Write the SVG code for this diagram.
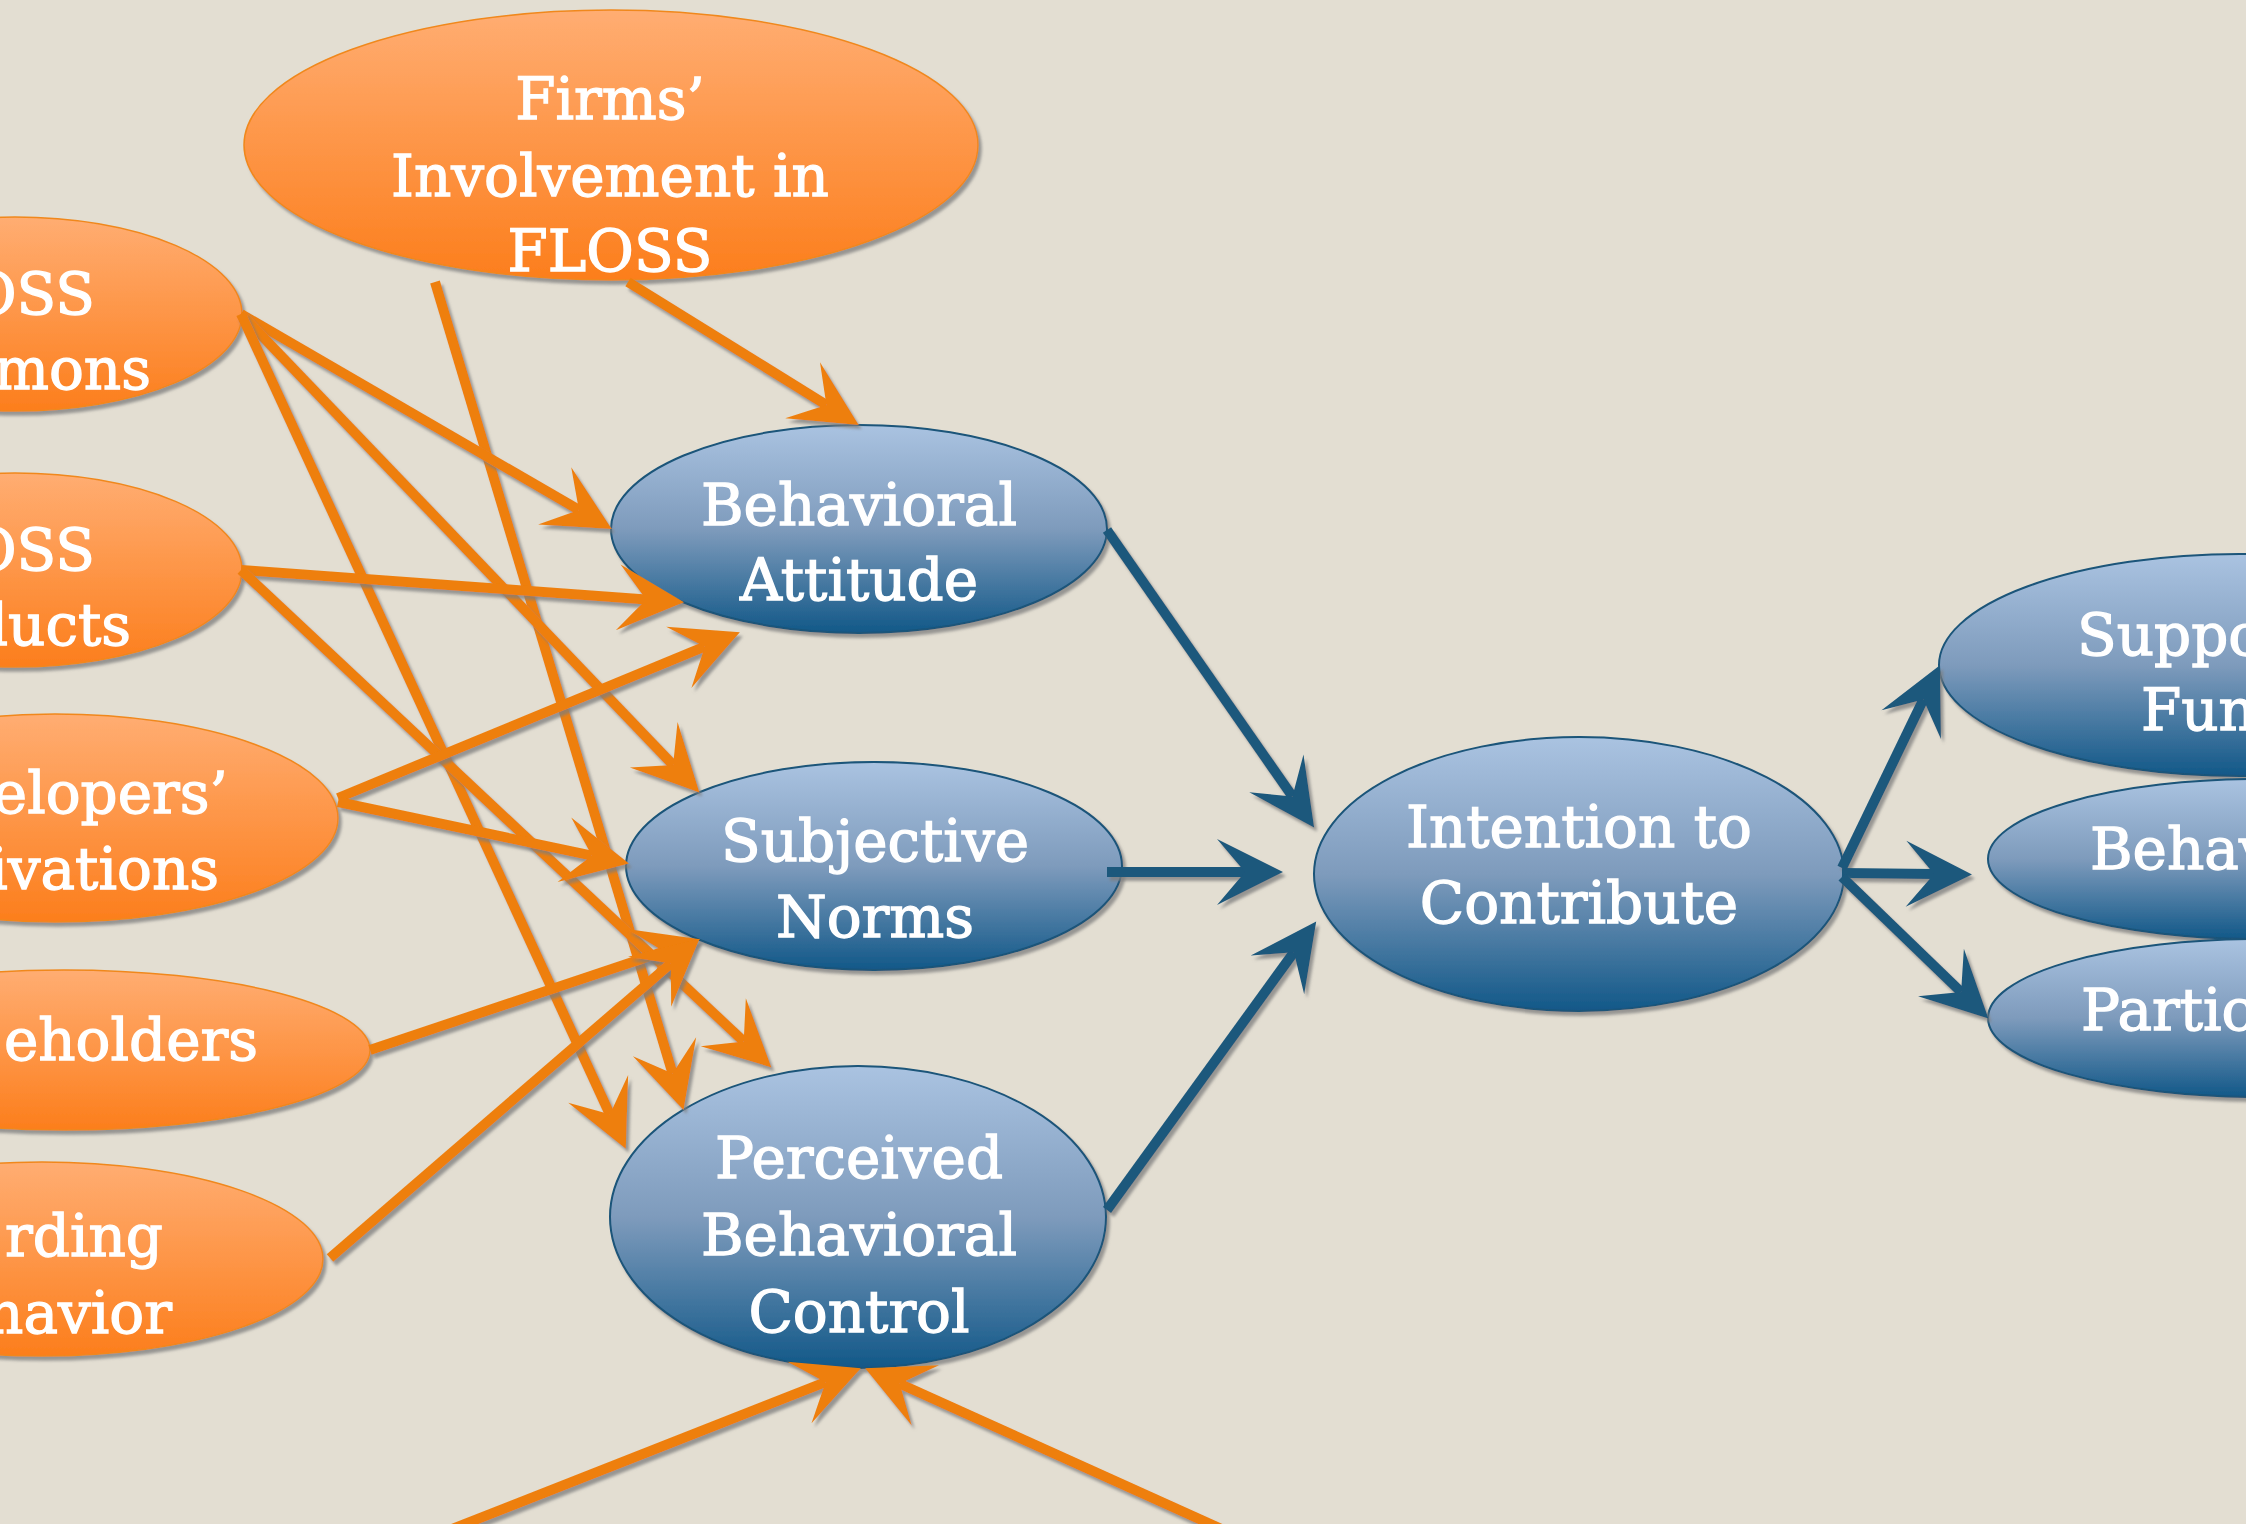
<svg xmlns="http://www.w3.org/2000/svg" width="2246" height="1524" viewBox="0 0 2246 1524">
<defs>
<linearGradient id="gO" x1="0" y1="0" x2="0" y2="1">
<stop offset="0" stop-color="#FFAD72"/>
<stop offset="1" stop-color="#FC7E1C"/>
</linearGradient>
<linearGradient id="gB" x1="0" y1="0" x2="0" y2="1">
<stop offset="0" stop-color="#AAC3E1"/>
<stop offset="0.5" stop-color="#7E9BBC"/>
<stop offset="1" stop-color="#125888"/>
</linearGradient>
<filter id="sh" filterUnits="userSpaceOnUse" x="0" y="0" width="2246" height="1524">
<feDropShadow dx="3" dy="4" stdDeviation="1.5" flood-color="#7d7d7d" flood-opacity="0.75"/>
</filter>
<marker id="ao" markerUnits="userSpaceOnUse" orient="auto" overflow="visible" markerWidth="100" markerHeight="100" refX="0" refY="0">
<path d="M38,0 L-28,-33 L0,0 L-28,33 Z" fill="#EE7F0E"/>
</marker>
<marker id="ab" markerUnits="userSpaceOnUse" orient="auto" overflow="visible" markerWidth="100" markerHeight="100" refX="0" refY="0">
<path d="M38,0 L-28,-33 L0,0 L-28,33 Z" fill="#1D587C"/>
</marker>
<style>
.o { fill: url(#gO); stroke: #F0881C; stroke-width: 1.5; filter: url(#sh); }
.b { fill: url(#gB); stroke: #1A5479; stroke-width: 2; filter: url(#sh); }
.t, .te, .ts { font-family: "DejaVu Serif", "Liberation Serif", serif; font-size: 58px; fill: #FFFFFF; stroke: #FFFFFF; stroke-width: 1.3; }
.t { text-anchor: middle; }
.te { text-anchor: end; }
.ts { text-anchor: start; }
.co { stroke: #EE7F0E; stroke-width: 10; fill: none; marker-end: url(#ao); filter: url(#sh); }
.cb { stroke: #1D587C; stroke-width: 10; fill: none; marker-end: url(#ab); filter: url(#sh); }
</style>
</defs>
<rect x="0" y="0" width="2246" height="1524" fill="#E3DED2"/>

<g id="firms-involvement">
<ellipse class="o" cx="611" cy="145" rx="367" ry="135"/>
<text class="t" x="610" y="119">Firms’</text>
<text class="t" x="610" y="196">Involvement in</text>
<text class="t" x="610" y="271">FLOSS</text>
</g>

<g id="floss-commons">
<ellipse class="o" cx="15" cy="314" rx="227" ry="97"/>
<text class="te" x="95" y="314">OSS</text>
<text class="te" x="151" y="389">mons</text>
</g>

<g id="floss-products">
<ellipse class="o" cx="15" cy="570" rx="227" ry="97"/>
<text class="te" x="95" y="570">OSS</text>
<text class="te" x="131" y="645">ducts</text>
</g>

<g id="developers-motivations">
<ellipse class="o" cx="55" cy="818" rx="283" ry="104"/>
<text class="te" x="228" y="813">elopers’</text>
<text class="te" x="219" y="889">ivations</text>
</g>

<g id="stakeholders">
<ellipse class="o" cx="64" cy="1050" rx="306" ry="80"/>
<text class="te" x="258" y="1060">eholders</text>
</g>

<g id="herding-behavior">
<ellipse class="o" cx="42" cy="1259" rx="281" ry="97"/>
<text class="te" x="163" y="1256">rding</text>
<text class="te" x="172" y="1333">navior</text>
</g>

<g id="behavioral-attitude">
<ellipse class="b" cx="859" cy="529" rx="248" ry="104"/>
<text class="t" x="859" y="525">Behavioral</text>
<text class="t" x="859" y="600">Attitude</text>
</g>

<g id="subjective-norms">
<ellipse class="b" cx="874" cy="866" rx="248" ry="104"/>
<text class="t" x="875" y="861">Subjective</text>
<text class="t" x="875" y="937">Norms</text>
</g>

<g id="perceived-behavioral-control">
<ellipse class="b" cx="858" cy="1217" rx="248" ry="151"/>
<text class="t" x="859" y="1178">Perceived</text>
<text class="t" x="859" y="1255">Behavioral</text>
<text class="t" x="859" y="1332">Control</text>
</g>

<g id="intention-to-contribute">
<ellipse class="b" cx="1579" cy="874" rx="265" ry="137"/>
<text class="t" x="1579" y="847">Intention to</text>
<text class="t" x="1579" y="923">Contribute</text>
</g>

<g id="support-funding">
<ellipse class="b" cx="2240" cy="665" rx="301" ry="111"/>
<text class="ts" x="2077" y="655">Suppo</text>
<text class="ts" x="2141" y="730">Fun</text>
</g>

<g id="behavior">
<ellipse class="b" cx="2260" cy="859" rx="272" ry="80"/>
<text class="ts" x="2090" y="869">Behav</text>
</g>

<g id="participation">
<ellipse class="b" cx="2260" cy="1018" rx="272" ry="79"/>
<text class="ts" x="2081" y="1030">Partic</text>
</g>

<g id="connectors">
<line class="co" x1="628" y1="282" x2="826.4" y2="405"/>
<line class="co" x1="435" y1="282" x2="672.6" y2="1073.5"/>
<line class="co" x1="241" y1="314" x2="578.9" y2="509.9"/>
<line class="co" x1="241" y1="314" x2="673.1" y2="765"/>
<line class="co" x1="241" y1="314" x2="609.9" y2="1114.3"/>
<line class="co" x1="241" y1="570" x2="646.1" y2="599.4"/>
<line class="co" x1="241" y1="570" x2="743.7" y2="1041.4"/>
<line class="co" x1="338" y1="798" x2="704.7" y2="646.7"/>
<line class="co" x1="338" y1="802" x2="591.8" y2="855.6"/>
<line class="co" x1="370" y1="1050" x2="663.9" y2="951.4"/>
<line class="co" x1="330" y1="1258" x2="670.8" y2="963.5"/>
<line class="co" x1="447" y1="1531" x2="825.5" y2="1382.2"/>
<line class="co" x1="1228" y1="1532" x2="899.8" y2="1383.8"/>
<line class="cb" x1="1107" y1="530" x2="1292.4" y2="796.4"/>
<line class="cb" x1="1107" y1="872" x2="1245" y2="872"/>
<line class="cb" x1="1107" y1="1210" x2="1293.9" y2="952.2"/>
<line class="cb" x1="1842" y1="868" x2="1923.4" y2="699.4"/>
<line class="cb" x1="1842" y1="873" x2="1934" y2="874"/>
<line class="cb" x1="1842" y1="877" x2="1961.1" y2="992"/>
</g>
</svg>
